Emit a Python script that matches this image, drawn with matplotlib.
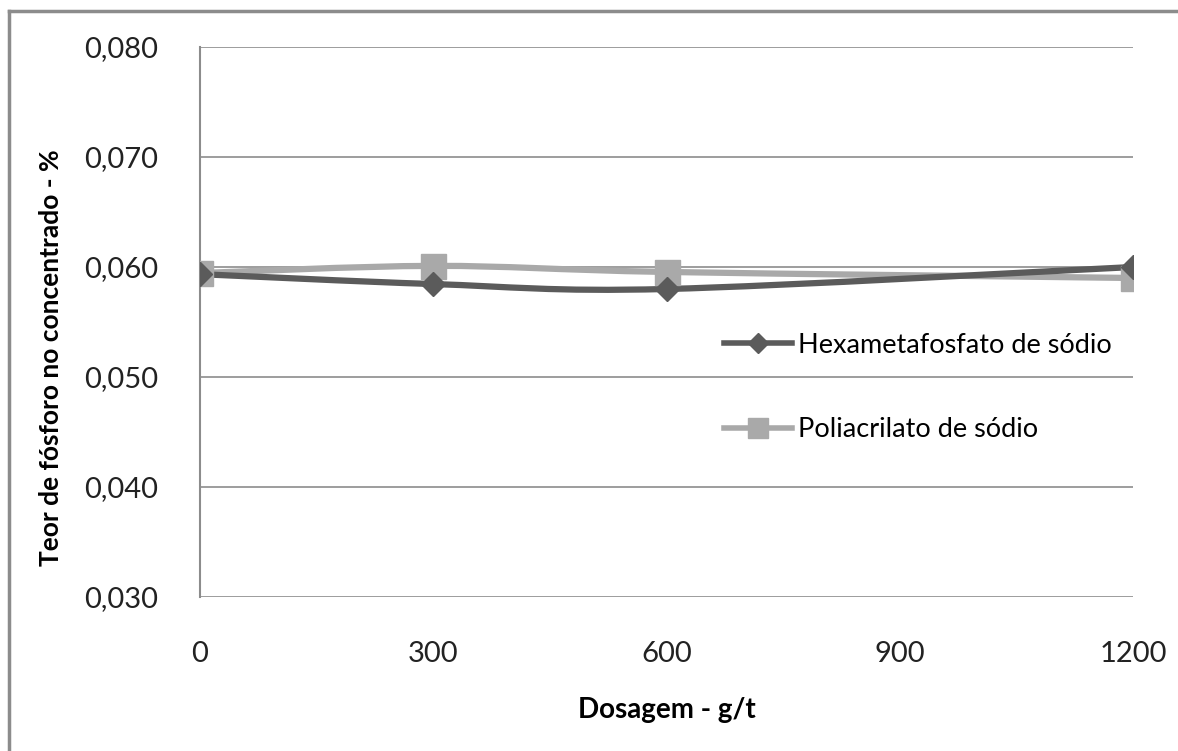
import numpy as np
import matplotlib.pyplot as plt
from matplotlib.path import Path
from matplotlib.patches import PathPatch
from matplotlib.lines import Line2D

plt.rcParams['font.family'] = ['Lato', 'DejaVu Sans']

# Dosagem (g/t) e teor de fósforo (%)
dosagem = [0, 300, 600, 1200]
hexametafosfato = [0.05935, 0.05845, 0.0580, 0.0600]
poliacrilato = [0.05945, 0.0601, 0.05955, 0.0590]
y_ticks = [0.030, 0.040, 0.050, 0.060, 0.070, 0.080]
x_ticks = [0, 300, 600, 900, 1200]

cor_hexa = '#5b5b5b'
cor_poli = '#a9a9a9'


def curva_suave(ax, x, y, cor, lw):
    # Catmull-Rom em forma de Bezier, como a linha suavizada do Excel
    pts = np.column_stack([x, y]).astype(float)
    verts = [pts[0]]
    codes = [Path.MOVETO]
    n = len(pts)
    for i in range(n - 1):
        p0 = pts[i - 1] if i > 0 else pts[i]
        p1 = pts[i]
        p2 = pts[i + 1]
        p3 = pts[i + 2] if i + 2 < n else pts[i + 1]
        c1 = p1 + (p2 - p0) / 6.0
        c2 = p2 - (p3 - p1) / 6.0
        verts += [c1, c2, p2]
        codes += [Path.CURVE4] * 3
    ax.add_patch(PathPatch(Path(verts, codes), facecolor='none',
                           edgecolor=cor, lw=lw, zorder=3,
                           capstyle='round', joinstyle='round'))


fig = plt.figure(figsize=(11.78, 7.51), dpi=100)
ax = fig.add_axes([0.1698, 0.2051, 0.7920, 0.7323])

curva_suave(ax, dosagem, poliacrilato, cor_poli, 4.5)
ax.plot(dosagem, poliacrilato, ls='none', marker='s', ms=18,
        color=cor_poli, zorder=4)
curva_suave(ax, dosagem, hexametafosfato, cor_hexa, 4.5)
ax.plot(dosagem, hexametafosfato, ls='none', marker='D', ms=12,
        color=cor_hexa, zorder=5)

ax.set_xlim(0, 1200)
ax.set_ylim(0.030, 0.080)
ax.set_xticks(x_ticks)
ax.set_yticks(y_ticks)
ax.set_yticklabels([f'{v:.3f}'.replace('.', ',') for v in y_ticks])
ax.tick_params(length=0, labelsize=21, colors='#222222')
ax.tick_params(axis='y', pad=30)
ax.tick_params(axis='x', pad=32)
ax.grid(axis='y', color='#8c8c8c', lw=1.2)
ax.set_axisbelow(True)
for s in ['top', 'right', 'bottom']:
    ax.spines[s].set_visible(False)
ax.spines['left'].set_color('#8c8c8c')
ax.spines['left'].set_linewidth(1.5)

ax.set_xlabel('Dosagem - g/t', fontsize=20, fontweight='bold', labelpad=21)
ax.set_ylabel('Teor de fósforo no concentrado - %', fontsize=19,
              fontweight='bold')
ax.yaxis.set_label_coords(-0.147, 0.436)

handles = [
    Line2D([], [], color=cor_hexa, lw=4, marker='D', ms=10),
    Line2D([], [], color=cor_poli, lw=4, marker='s', ms=14),
]
ax.legend(handles, ['Hexametafosfato de sódio', 'Poliacrilato de sódio'],
          loc='upper left', bbox_to_anchor=(0.55, 0.50), frameon=False,
          fontsize=19.5, handlelength=2.5, handletextpad=0.25,
          labelspacing=2.2, borderaxespad=0)

# moldura externa do gráfico
fig.add_artist(Line2D([0.0075, 0.0075], [0, 0.985], color='#8c8c8c', lw=2.5))
fig.add_artist(Line2D([0.0075, 1.0], [0.985, 0.985], color='#8c8c8c', lw=2.5))

fig.savefig('out.png', dpi=100)
